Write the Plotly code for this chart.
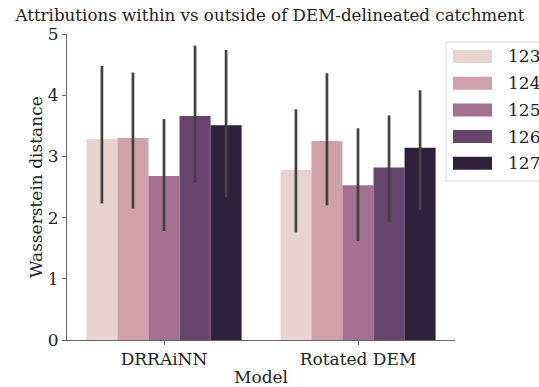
import plotly.graph_objects as go

models = ["DRRAiNN", "Rotated DEM"]
seeds = ["123", "124", "125", "126", "127"]
means = {
    "123": [3.28, 2.78],
    "124": [3.30, 3.25],
    "125": [2.68, 2.53],
    "126": [3.66, 2.82],
    "127": [3.51, 3.14],
}
ci_low = {
    "123": [2.23, 1.76],
    "124": [2.15, 2.20],
    "125": [1.78, 1.62],
    "126": [2.57, 1.93],
    "127": [2.33, 2.13],
}
ci_high = {
    "123": [4.48, 3.77],
    "124": [4.37, 4.36],
    "125": [3.61, 3.46],
    "126": [4.81, 3.67],
    "127": [4.74, 4.08],
}
colors = ["#e8d3cf", "#d1a1a9", "#a3708f", "#67456c", "#2e1f3b"]

FONT = "DejaVu Serif"
FS = 17
fig = go.Figure()
for s, c in zip(seeds, colors):
    m = means[s]
    fig.add_trace(go.Bar(
        x=models, y=m, name=s, marker=dict(color=c, line=dict(width=0)),
        error_y=dict(type="data", symmetric=False,
                     array=[h - v for h, v in zip(ci_high[s], m)],
                     arrayminus=[v - l for l, v in zip(ci_low[s], m)],
                     color="#424242", thickness=2.7, width=0),
        showlegend=False,
    ))

L, R, T, B = 67, 455, 34, 340
pw, ph = R - L, B - T
def px(x):
    return (x - L) / pw
def py(y):
    return (B - y) / ph

# custom legend (wide patches like matplotlib)
shapes = [dict(type="rect", xref="paper", yref="paper",
               x0=px(446), x1=px(560), y0=py(181), y1=py(42),
               line=dict(color="#d9d9d9", width=1), fillcolor="rgba(255,255,255,0.8)", layer="above")]
annotations = []
for i, (s, c) in enumerate(zip(seeds, colors)):
    yc = 56.5 + i * 26.7
    shapes.append(dict(type="rect", xref="paper", yref="paper",
                       x0=px(453), x1=px(492), y0=py(yc + 6.5), y1=py(yc - 6.5),
                       line=dict(width=0), fillcolor=c, layer="above"))
    annotations.append(dict(xref="paper", yref="paper", x=px(506), y=py(yc),
                            text=s, showarrow=False, xanchor="left", yanchor="middle",
                            font=dict(family=FONT, size=FS, color="#222")))

# axis titles
annotations.append(dict(xref="paper", yref="paper", x=px(36), y=py(187), text="Wasserstein distance",
                        textangle=-90, showarrow=False, xanchor="center", yanchor="middle",
                        font=dict(family=FONT, size=FS, color="#222")))
annotations.append(dict(xref="paper", yref="paper", x=px(261), y=py(377), text="Model",
                        showarrow=False, xanchor="center", yanchor="middle",
                        font=dict(family=FONT, size=FS, color="#222")))

fig.update_layout(
    width=539, height=387,
    margin=dict(l=L, r=539 - R, t=T, b=387 - B),
    paper_bgcolor="white", plot_bgcolor="white",
    barmode="group", bargap=0.2, bargroupgap=0,
    font=dict(family=FONT, size=FS, color="#222"),
    title=dict(text="Attributions within vs outside of DEM-delineated catchment",
               x=px(270), xref="paper", xanchor="center", y=1 - 15 / 387, yanchor="middle",
               font=dict(family=FONT, size=16.7, color="#222")),
    xaxis=dict(range=[-0.5, 1.5], showline=True, linecolor="#666", linewidth=1,
               ticks="outside", ticklen=4, tickcolor="#666", automargin=False,
               tickfont=dict(size=FS), showgrid=False, zeroline=False),
    yaxis=dict(range=[0, 5], showline=True, linecolor="#666", linewidth=1,
               ticks="outside", ticklen=4, tickcolor="#666", dtick=1, automargin=False,
               tickfont=dict(size=FS), showgrid=False, zeroline=False),
    shapes=shapes, annotations=annotations,
)
fig.write_html("out.html")
